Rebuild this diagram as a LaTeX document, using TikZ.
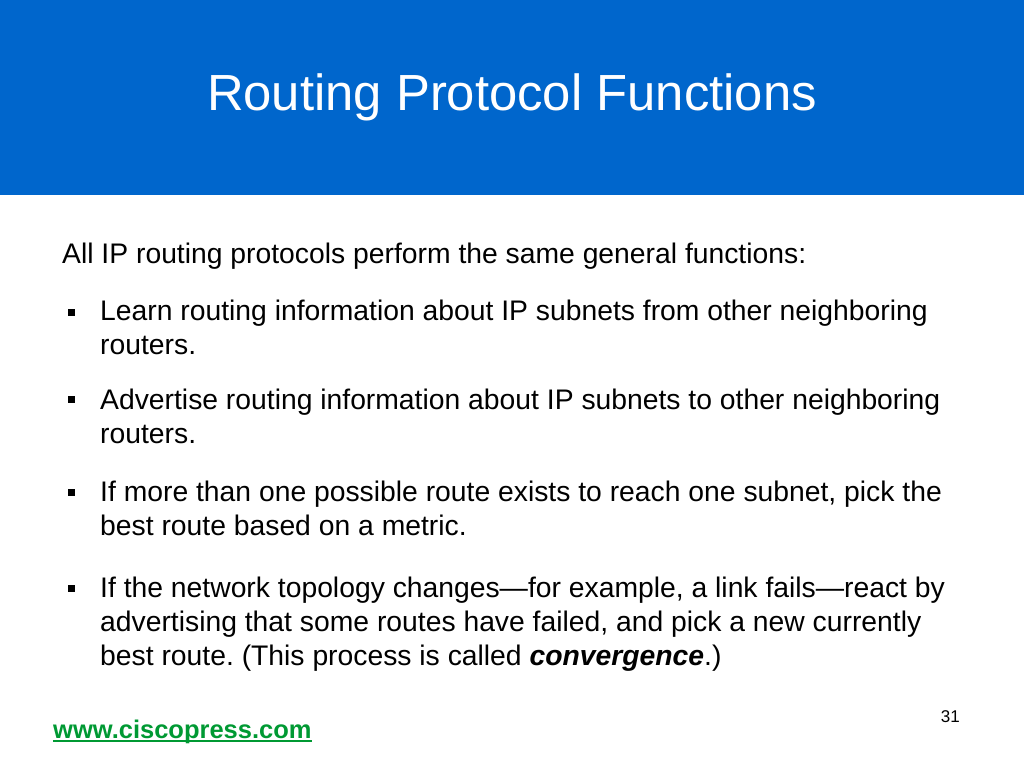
\documentclass[tikz,border=0pt]{standalone}
\usepackage{fontspec}
\setmainfont{Liberation Sans}
\frenchspacing
\begin{document}
\begin{tikzpicture}[x=1pt,y=-1pt,
  body/.style={anchor=base west,inner sep=0pt,font=\fontsize{28.3}{32}\selectfont},
  bul/.style={fill=black,minimum size=7pt,inner sep=0pt}]
\useasboundingbox (0,0) rectangle (1024,768);
\definecolor{band}{HTML}{0066CC}
\definecolor{link}{HTML}{009933}
\fill[band] (0,0) rectangle (1024,195);
\node[anchor=base,inner sep=0pt,text=white,font=\fontsize{50.8}{58}\selectfont] (title) at (512,110) {Routing Protocol Functions};
\node[body] (intro) at (62,263) {All IP routing protocols perform the same general functions:};
\foreach \y/\n in {312/b1,399/b2,492/b3,588/b4}{\node[bul] (\n) at (71,\y) {};}
\node[body] (l1) at (100,320) {Learn routing information about IP subnets from other neighboring};
\node[body] (l1b) at (100,354) {routers.};
\node[body] (l2) at (100,409) {Advertise routing information about IP subnets to other neighboring};
\node[body] (l2b) at (100,443) {routers.};
\node[body] (l3) at (100,501) {If more than one possible route exists to reach one subnet, pick the};
\node[body] (l3b) at (100,535) {best route based on a metric.};
\node[body] (l4) at (100,597) {If the network topology changes---for example, a link fails---react by};
\node[body] (l4b) at (100,631) {advertising that some routes have failed, and pick a new currently};
\node[body] (l4c) at (100,665) {best route. (This process is called \textbf{\textit{convergence}}.)};
\node[anchor=base west,inner sep=0pt,text=link,font=\fontsize{25.5}{30}\selectfont\bfseries] (url) at (53,738) {www.ciscopress.com};
\draw[link,line width=1.5pt] ([yshift=-3pt]url.base west) -- ([yshift=-3pt]url.base east);
\node[anchor=base east,inner sep=0pt,font=\fontsize{17}{20}\selectfont] (pg) at (960,722) {31};
\end{tikzpicture}
\end{document}
